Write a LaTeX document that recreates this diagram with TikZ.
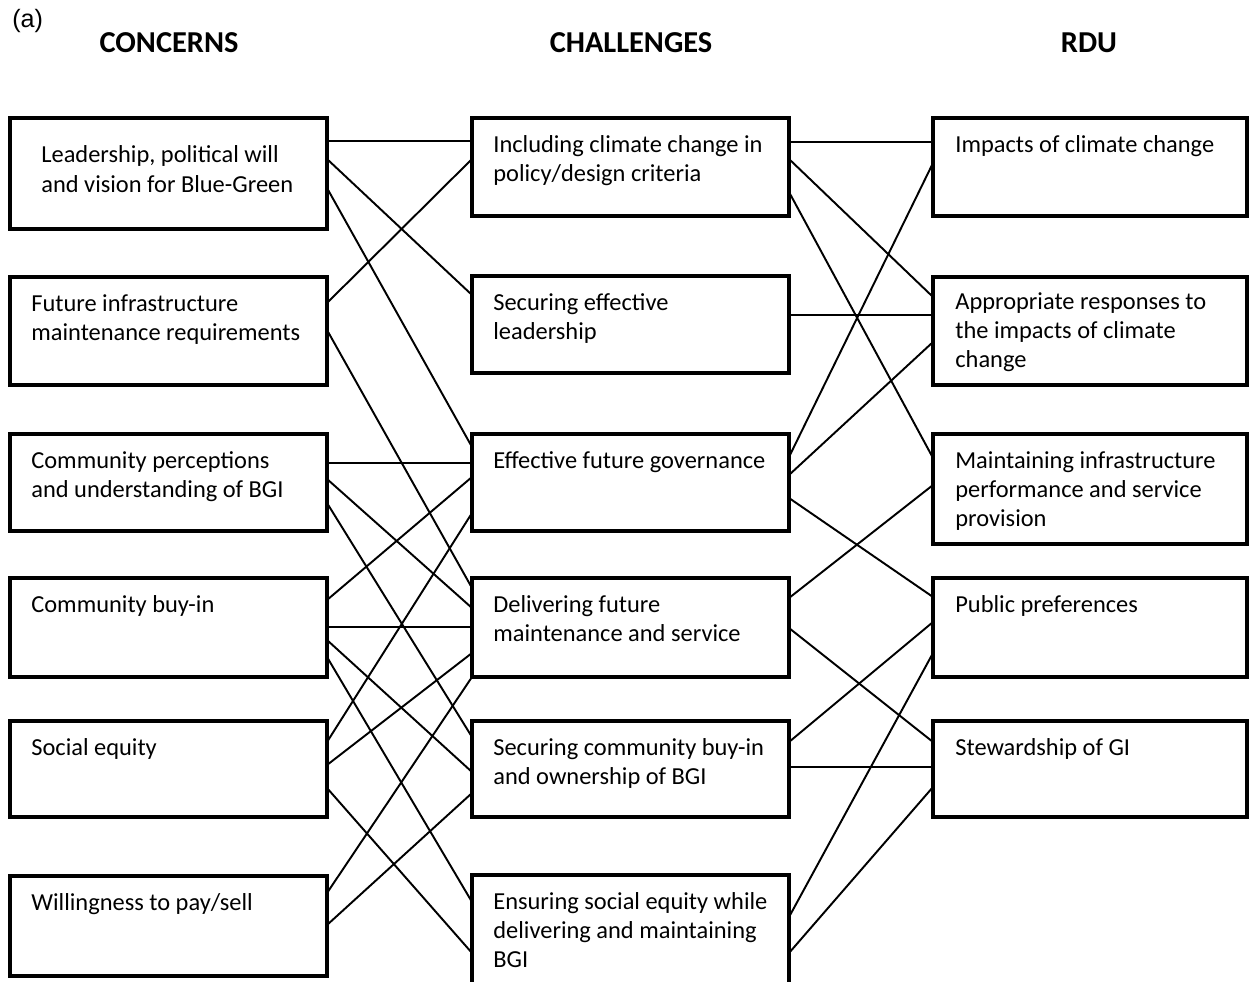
\documentclass[tikz,border=0pt]{standalone}
\usepackage{fontspec}
\setmainfont{Carlito}
\newfontfamily\arialfont{Liberation Sans}
\usetikzlibrary{calc}
\tikzset{
  cbox/.style={draw, line width=2.5pt, inner sep=0pt, outer sep=0pt},
  ctext/.style={anchor=north west, align=left, inner sep=0pt, font=\fontsize{13.9}{16.7}\selectfont},
  head/.style={anchor=base, inner sep=0pt, font=\fontsize{17.3}{20}\selectfont\bfseries},
  link/.style={line width=1.1pt}
}
% box: name, left, top, right, bottom, text offset, text
\newcommand\cbox[7]{%
  \node[cbox, minimum width={(#4-#2)*0.02cm}, minimum height={(#5-#3)*0.02cm}] (#1) at ({(#2+#4)/2},{(#3+#5)/2}) {};
  \node[ctext] (#1-t) at ($(#1.north west)+(#6)$) {\strut#7};}

\begin{document}
\begin{tikzpicture}[x=0.02cm, y=-0.02cm]
  \clip (0,0) rectangle (1250,982);
  \fill[white] (0,0) rectangle (1250,982);

  \node[anchor=base west, inner sep=0pt, font=\arialfont\fontsize{14.3}{17}\selectfont] (tag) at (12,28) {(a)};
  \node[head] (h1) at (169,53) {CONCERNS};
  \node[head] (h2) at (631,53) {CHALLENGES};
  \node[head] (h3) at (1089,53) {RDU};

  % concerns
  \cbox{L1}{10}{118}{327}{229}{31,24}{Leadership, political will\\and vision for Blue-Green}
  \cbox{L2}{10}{277}{327}{385}{21,13.4}{Future infrastructure\\maintenance requirements}
  \cbox{L3}{10}{434}{327}{531}{21,13.4}{Community perceptions\\and understanding of BGI}
  \cbox{L4}{10}{578}{327}{677}{21,13.4}{Community buy-in}
  \cbox{L5}{10}{721}{327}{817}{21,13.4}{Social equity}
  \cbox{L6}{10}{876}{327}{976}{21,13.4}{Willingness to pay/sell}

  % challenges
  \cbox{M1}{472}{118}{789}{216}{21,13.4}{Including climate change in\\policy/design criteria}
  \cbox{M2}{472}{276}{789}{373}{21,13.4}{Securing effective\\leadership}
  \cbox{M3}{472}{434}{789}{531}{21,13.4}{Effective future governance}
  \cbox{M4}{472}{578}{789}{677}{21,13.4}{Delivering future\\maintenance and service}
  \cbox{M5}{472}{721}{789}{817}{21,13.4}{Securing community buy-in\\and ownership of BGI}
  \cbox{M6}{472}{875}{789}{995}{21,13.4}{Ensuring social equity while\\delivering and maintaining\\BGI}

  % rdu
  \cbox{R1}{933}{118}{1247}{216}{22,13.4}{Impacts of climate change}
  \cbox{R2}{933}{277}{1247}{385}{22,11.4}{Appropriate responses to\\the impacts of climate\\change}
  \cbox{R3}{933}{434}{1247}{544}{22,13.4}{Maintaining infrastructure\\performance and service\\provision}
  \cbox{R4}{933}{578}{1247}{677}{22,13.4}{Public preferences}
  \cbox{R5}{933}{721}{1247}{817}{22,13.4}{Stewardship of GI}

  % concerns -> challenges
  \foreach \a/\ya/\b/\yb in {L1/141/M1/141, L1/159/M2/295, L1/188/M3/447,
      L2/303/M1/159, L2/330/M4/588,
      L3/463/M3/463, L3/479/M4/608, L3/503/M5/737,
      L4/600/M3/477, L4/627/M4/627, L4/640/M5/772, L4/657/M6/902,
      L5/742/M3/513, L5/765/M4/653, L5/788/M6/953,
      L6/893/M4/677, L6/925/M5/793}
    \draw[link] (\a.east |- 0,\ya) -- (\b.west |- 0,\yb);

  % challenges -> rdu
  \foreach \a/\ya/\b/\yb in {M1/142/R1/142, M1/159/R2/297, M1/192/R3/458,
      M2/315/R2/315,
      M3/457/R1/163, M3/475/R2/342, M3/498/R4/597,
      M4/598/R3/485, M4/628/R5/742,
      M5/742/R4/622, M5/767/R5/767,
      M6/917/R4/653, M6/953/R5/787}
    \draw[link] (\a.east |- 0,\ya) -- (\b.west |- 0,\yb);
\end{tikzpicture}
\end{document}
